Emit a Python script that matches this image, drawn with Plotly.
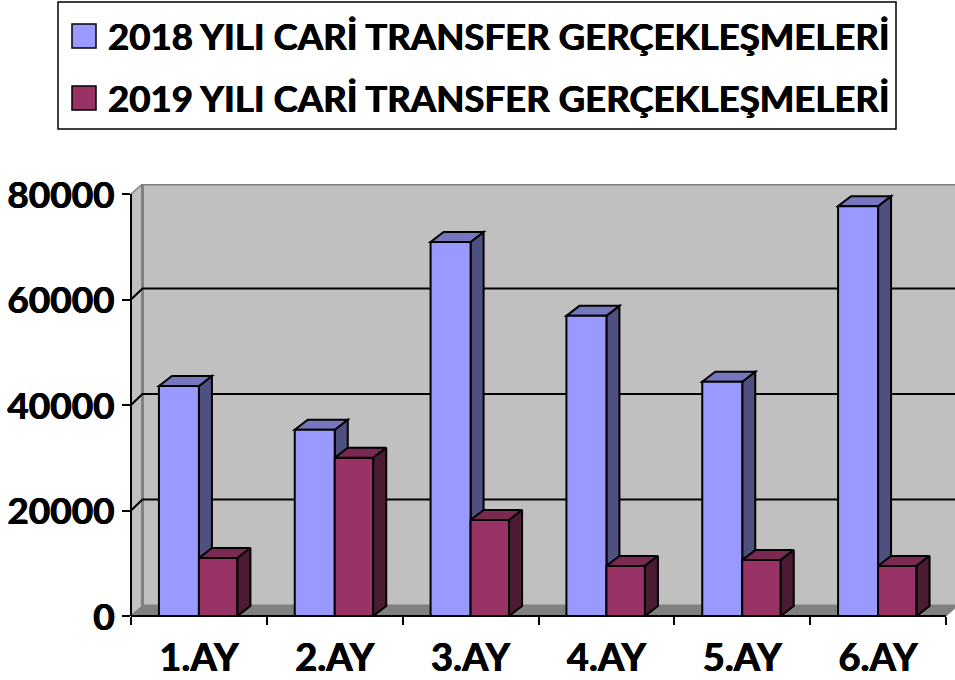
import plotly.graph_objects as go

categories = ["1.AY", "2.AY", "3.AY", "4.AY", "5.AY", "6.AY"]
name_2018 = "2018 YILI CARİ TRANSFER GERÇEKLEŞMELERİ"
name_2019 = "2019 YILI CARİ TRANSFER GERÇEKLEŞMELERİ"
values_2018 = [43600, 35300, 70900, 56900, 44400, 77700]
values_2019 = [11000, 30000, 18200, 9500, 10600, 9500]
y_ticks = [0, 20000, 40000, 60000, 80000]

W, H = 955, 680
L, T, B = 131, 184, 64
PX_X = (946 - 131) / 6          # pixels per category
PX_Y = 422 / 80000              # pixels per value unit
XMAX = (W - L) / PX_X
YMAX = (H - B - T) / PX_Y
BAR_W_A = 40 / PX_X
BAR_W_B = 38.5 / PX_X
# depth offsets
WALL_DX, WALL_DY = 11.5 / PX_X, 10 / PX_Y
GRID_DY = 11 / PX_Y
BAR_DX, BAR_DY = 13 / PX_X, 10 / PX_Y
centers = [i + 0.5 for i in range(len(categories))]
FONT = "Lato, Carlito, sans-serif"
HEAVY = "0.5px 0 0 #000, -0.4px 0 0 #000"


def poly(pts):
    return "M" + "L".join(f"{x},{y}" for x, y in pts) + "Z"


shapes = []
# side wall, back wall, floor
shapes.append(dict(type="path", xref="x", yref="y", layer="below",
                   path=poly([(0, 0), (0, 80000), (WALL_DX, 80000 + WALL_DY), (WALL_DX, WALL_DY)]),
                   fillcolor="#C0C0C0", line=dict(color="#808080", width=1.5)))
shapes.append(dict(type="path", xref="x", yref="y", layer="below",
                   path=poly([(WALL_DX, WALL_DY), (WALL_DX, 80000 + WALL_DY),
                              (6 + WALL_DX, 80000 + WALL_DY), (6 + WALL_DX, WALL_DY)]),
                   fillcolor="#C0C0C0", line=dict(color="#808080", width=3)))
shapes.append(dict(type="path", xref="x", yref="y", layer="below",
                   path=poly([(0, 0), (WALL_DX, WALL_DY), (6 + WALL_DX, WALL_DY), (6, 0)]),
                   fillcolor="#808080", line=dict(color="#808080", width=1)))
# gridlines
for v in y_ticks[1:-1]:
    shapes.append(dict(type="path", xref="x", yref="y", layer="below",
                       path=f"M0,{v}L{WALL_DX},{v + GRID_DY}L{6 + WALL_DX},{v + GRID_DY}",
                       line=dict(color="#000000", width=2)))
# side faces of the 2018 bars lie under the 2019 fronts
for c, v in zip(centers, values_2018):
    shapes.append(dict(type="path", xref="x", yref="y", layer="below",
                       path=poly([(c, 0), (c, v), (c + BAR_DX, v + BAR_DY), (c + BAR_DX, BAR_DY)]),
                       fillcolor="#505080", line=dict(color="#000000", width=2)))
    shapes.append(dict(type="path", xref="x", yref="y", layer="below",
                       path=poly([(c - BAR_W_A, v), (c - BAR_W_A + BAR_DX, v + BAR_DY),
                                  (c + BAR_DX, v + BAR_DY), (c, v)]),
                       fillcolor="#7777C0", line=dict(color="#000000", width=2)))

fig = go.Figure()
fig.add_trace(go.Bar(x=centers, y=values_2018, name=name_2018, width=BAR_W_A, offset=-BAR_W_A,
                     marker=dict(color="#9999FF", line=dict(color="#000000", width=2))))
fig.add_trace(go.Bar(x=centers, y=values_2019, name=name_2019, width=BAR_W_B, offset=0,
                     marker=dict(color="#993366", line=dict(color="#000000", width=2))))

# 3-D faces of the 2019 bars
for c, v in zip(centers, values_2019):
    r = c + BAR_W_B
    fig.add_trace(go.Scatter(x=[c, c + BAR_DX, r + BAR_DX, r, c], y=[v, v + BAR_DY, v + BAR_DY, v, v],
                             mode="lines", fill="toself", fillcolor="#7A2952",
                             line=dict(color="#000000", width=2), hoverinfo="skip", showlegend=False))
    fig.add_trace(go.Scatter(x=[r, r + BAR_DX, r + BAR_DX, r, r], y=[0, BAR_DY, v + BAR_DY, v, 0],
                             mode="lines", fill="toself", fillcolor="#4D1A33",
                             line=dict(color="#000000", width=2), hoverinfo="skip", showlegend=False))

# axis lines (stop at the last tick, not at the plot edge)
x_end = 6 / XMAX
shapes.append(dict(type="line", xref="paper", yref="paper", x0=0, x1=x_end, y0=0, y1=0,
                   layer="above", line=dict(color="#000000", width=2)))
shapes.append(dict(type="line", xref="paper", yref="paper", x0=0, x1=0, y0=0, y1=80000 / YMAX,
                   layer="above", line=dict(color="#000000", width=2)))

# legend box
def px(x):
    return (x - L) / (W - L)
def py(y):
    return (H - B - y) / (H - B - T)

shapes.append(dict(type="rect", xref="paper", yref="paper", x0=px(58), x1=px(896), y0=py(129), y1=py(2),
                   fillcolor="#FFFFFF", line=dict(color="#000000", width=1.5)))
annotations = []
for name, color, yc in [(name_2018, "#9999FF", 36), (name_2019, "#993366", 98)]:
    shapes.append(dict(type="rect", xref="paper", yref="paper", x0=px(72), x1=px(96),
                       y0=py(yc + 12), y1=py(yc - 12), fillcolor=color,
                       line=dict(color="#000000", width=1.5)))
    annotations.append(dict(text=f"<b>{name}</b>", xref="paper", yref="paper", x=px(106), y=py(yc),
                            xanchor="left", yanchor="middle", showarrow=False,
                            font=dict(family=FONT, size=36.6, color="#000000", shadow=HEAVY)))

fig.update_layout(
    width=W, height=H, margin=dict(l=L, r=0, t=T, b=B, pad=0, autoexpand=False),
    paper_bgcolor="#FFFFFF", plot_bgcolor="rgba(0,0,0,0)", showlegend=False,
    barmode="overlay", shapes=shapes, annotations=annotations,
    font=dict(family=FONT, color="#000000"),
    xaxis=dict(range=[0, XMAX], tickvals=centers, ticktext=[f"<b>{c}</b>" for c in categories],
               ticks="", showgrid=False, zeroline=False, showline=False, automargin=False,
               tickfont=dict(family=FONT, size=38, color="#000000", shadow=HEAVY), ticklabelstandoff=16,
               minor=dict(tickvals=list(range(7)), ticks="outside", ticklen=8, tickwidth=2,
                          tickcolor="#000000", showgrid=False)),
    yaxis=dict(range=[0, YMAX], tickvals=y_ticks, ticktext=[f"<b>{v}</b>" for v in y_ticks],
               ticks="outside", ticklen=8, tickwidth=2, tickcolor="#000000", automargin=False,
               showgrid=False, zeroline=False, showline=False, ticklabelstandoff=0, ticklabelshift=1,
               tickfont=dict(family=FONT, size=37, color="#000000", shadow=HEAVY)),
)

fig.write_html("out.html", post_script="document.body.style.margin='0';", config={"displayModeBar": False})
